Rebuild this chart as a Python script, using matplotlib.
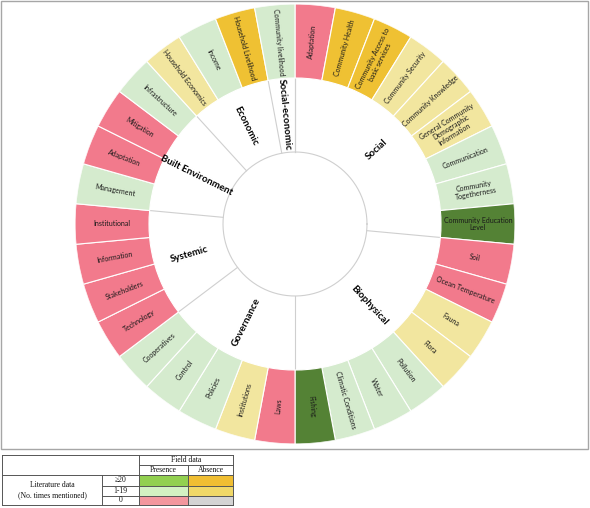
import numpy as np
import matplotlib
matplotlib.use('Agg')
import matplotlib.pyplot as plt
from matplotlib.patches import Rectangle

plt.rcParams['font.family'] = ['Lato', 'DejaVu Sans']

# ===================== 数据 =====================
# 外圈条目（从正上方开始顺时针）
items = [
    'Adaptation', 'Community Health', 'Community Access to\nbasic services',
    'Community Security', 'Community Knowledge',
    'General Community\nDemographic\nInformation', 'Communication',
    'Community\nTogetherness', 'Community Education\nLevel',
    'Soil', 'Ocean Temperature', 'Fauna', 'Flora', 'Pollution', 'Water',
    'Climatic Conditions', 'Fishing',
    'Laws', 'Institutions', 'Policies', 'Control', 'Cooperatives',
    'Technology', 'Stakeholders', 'Information', 'Institutional',
    'Management', 'Adaptation', 'Mitigation', 'Infrastructure',
    'Household Economics', 'Income', 'Household Livelihood',
    'Community livelihood',
]
# 状态：P20 出现且>=20, P1 出现且1-19, A20 缺失且>=20, A1 缺失且1-19, Z 文献0次
status = [
    'Z', 'A20', 'A20', 'A1', 'A1', 'A1', 'P1', 'P1', 'P20',
    'Z', 'Z', 'A1', 'A1', 'P1', 'P1', 'P1', 'P20',
    'Z', 'A1', 'P1', 'P1', 'P1',
    'Z', 'Z', 'Z', 'Z',
    'P1', 'Z', 'Z', 'P1',
    'A1', 'P1', 'A20',
    'P1',
]
categories = ['Social', 'Biophysical', 'Governance', 'Systemic',
              'Built Environment', 'Economic', 'Social-economic']
cat_counts = [9, 8, 5, 4, 4, 3, 1]

# 图例表格
legend_rows = ['\u226520', '1-19', '0']
legend_cols = ['Presence', 'Absence']

ring_colors = {'P20': '#548235', 'P1': '#D5EBCE', 'A20': '#EFC133',
               'A1': '#F2E69F', 'Z': '#F27A8C'}
legend_colors = [['#92D050', '#F0BE32'],
                 ['#D3F1C2', '#F0D868'],
                 ['#F3979E', '#D4D4D4']]

# ===================== 画图 =====================
W, H = 590, 508
fig = plt.figure(figsize=(W / 100, H / 100), dpi=100)

CX, CY, R_OUT = 295, 224, 220
R_MID, R_IN = 146, 72
ax = fig.add_axes([(CX - R_OUT) / W, (H - CY - R_OUT) / H,
                   2 * R_OUT / W, 2 * R_OUT / H], projection='polar')
ax.set_ylim(0, R_OUT)
ax.set_axis_off()

n = len(items)
w = 360.0 / n
deg = 90 - (np.arange(n) + 0.5) * w
ax.bar(np.deg2rad(deg), R_OUT - R_MID, width=np.deg2rad(w), bottom=R_MID,
       color=[ring_colors[s] for s in status], edgecolor='white',
       linewidth=0.8, zorder=2)


def radial_rot(d):
    d = (d + 180) % 360 - 180
    return d if -90 <= d <= 90 else d - 180


for d, lab in zip(deg, items):
    ax.text(np.deg2rad(d), (R_OUT + R_MID) / 2, lab, rotation=radial_rot(d),
            rotation_mode='anchor', ha='center', va='center', fontsize=5,
            color='#1A1A1A', linespacing=1.1, zorder=3)

# 内圈类别
bounds = np.concatenate([[0], np.cumsum(cat_counts)])
for b in bounds:
    th = np.deg2rad(90 - b * w)
    ax.plot([th, th], [R_IN, R_MID], color='#CFCFCF', lw=0.8, zorder=1)
circ = np.linspace(0, 2 * np.pi, 400)
ax.plot(circ, np.full_like(circ, R_IN), color='#CFCFCF', lw=0.8, zorder=1)

for k, cat in enumerate(categories):
    mid = 90 - (bounds[k] + bounds[k + 1]) / 2 * w
    ax.text(np.deg2rad(mid), 110, cat, rotation=radial_rot(mid),
            rotation_mode='anchor', ha='center', va='center', fontsize=7,
            fontweight='bold', color='black', zorder=3)

# 外框
fig.patches.append(Rectangle((1 / W, (H - 449) / H), 587 / W, 448 / H,
                             transform=fig.transFigure, fill=False,
                             edgecolor='#A6A6A6', lw=1.0))

# ===================== 图例表格 =====================
tax = fig.add_axes([0, 0, 1, 1])
tax.set_xlim(0, W)
tax.set_ylim(H, 0)
tax.set_axis_off()
xs = [2, 102, 139, 188, 233]
ys = [455, 464.5, 475, 486, 495.5, 505]
lc = '#555555'
lw = 0.7
tf = dict(family=['Liberation Serif', 'DejaVu Serif'], fontsize=5.5,
          ha='center', va='center', color='#111111')

for i in range(3):
    for j in range(2):
        tax.add_patch(Rectangle((xs[2 + j], ys[2 + i]), xs[3 + j] - xs[2 + j],
                                ys[3 + i] - ys[2 + i],
                                facecolor=legend_colors[i][j], edgecolor='none'))

# 横线
tax.plot([xs[0], xs[4]], [ys[0], ys[0]], color=lc, lw=lw)
tax.plot([xs[2], xs[4]], [ys[1], ys[1]], color=lc, lw=lw)
tax.plot([xs[0], xs[4]], [ys[2], ys[2]], color=lc, lw=lw)
tax.plot([xs[1], xs[4]], [ys[3], ys[3]], color=lc, lw=lw)
tax.plot([xs[1], xs[4]], [ys[4], ys[4]], color=lc, lw=lw)
tax.plot([xs[0], xs[4]], [ys[5], ys[5]], color=lc, lw=lw)
# 竖线
tax.plot([xs[0], xs[0]], [ys[0], ys[5]], color=lc, lw=lw)
tax.plot([xs[1], xs[1]], [ys[2], ys[5]], color=lc, lw=lw)
tax.plot([xs[2], xs[2]], [ys[0], ys[5]], color=lc, lw=lw)
tax.plot([xs[3], xs[3]], [ys[1], ys[5]], color=lc, lw=lw)
tax.plot([xs[4], xs[4]], [ys[0], ys[5]], color=lc, lw=lw)

tax.text((xs[2] + xs[4]) / 2, (ys[0] + ys[1]) / 2, 'Field data', **tf)
for j, c in enumerate(legend_cols):
    tax.text((xs[2 + j] + xs[3 + j]) / 2, (ys[1] + ys[2]) / 2, c, **tf)
for i, r in enumerate(legend_rows):
    tax.text((xs[1] + xs[2]) / 2, (ys[2 + i] + ys[3 + i]) / 2, r, **tf)
tax.text((xs[0] + xs[1]) / 2, (ys[2] + ys[5]) / 2,
         'Literature data\n(No. times mentioned)', linespacing=1.3, **tf)

fig.savefig('out.png', dpi=100)
